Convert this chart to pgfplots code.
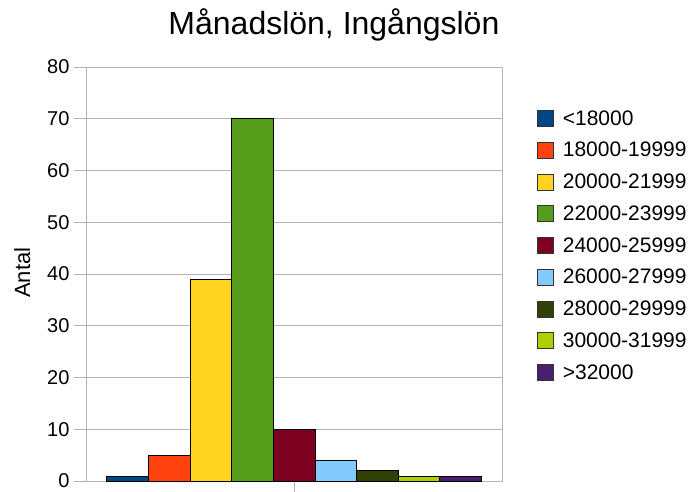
\documentclass[border=0pt]{standalone}
\usepackage{pgfplots}
\pgfplotsset{compat=1.18}
\usepackage{fontspec}
\setmainfont{Liberation Sans}
\definecolor{c1}{HTML}{004586}
\definecolor{c2}{HTML}{FF420E}
\definecolor{c3}{HTML}{FFD320}
\definecolor{c4}{HTML}{579D1C}
\definecolor{c5}{HTML}{7E0021}
\definecolor{c6}{HTML}{83CAFF}
\definecolor{c7}{HTML}{314004}
\definecolor{c8}{HTML}{AECF00}
\definecolor{c9}{HTML}{4B1F6F}
\definecolor{gridc}{HTML}{B3B3B3}
\begin{document}
\begin{tikzpicture}[x=1pt,y=1pt]
\useasboundingbox (-86,-10) rectangle (605,481);
\begin{axis}[
  at={(0,0)}, anchor=south west,
  scale only axis, width=416pt, height=414pt,
  xmin=-1, xmax=9, ymin=0, ymax=80,
  ytick={0,10,...,80},
  xtick={4}, xticklabels={},
  ymajorgrids, grid style={gridc, line width=0.8pt},
  axis line style={gridc, line width=0.8pt},
  tick style={gridc, line width=0.8pt},
  major tick length=12pt,
  ytick align=outside, xtick align=outside,
  xtick pos=bottom, ytick pos=left,
  /pgf/number format/assume math mode=true,
  yticklabel style={font=\fontsize{20}{24}\selectfont, xshift=-1pt},
  ylabel={Antal}, ylabel style={font=\fontsize{22}{26}\selectfont, at={(axis description cs:-0.125,0.503)}, anchor=south},
  title={Månadslön, Ingångslön},
  title style={font=\fontsize{32}{38}\selectfont, at={(axis description cs:0.596,1.088)}, anchor=center},
  ybar, bar width=1, bar shift=0pt,
  every axis plot/.append style={draw=black, line width=0.6pt},
  legend image code/.code={\draw[#1, draw=black!80, line width=0.6pt] (0pt,-8pt) rectangle (16pt,8pt);},
  legend style={at={(axis description cs:1.077,0.903)}, anchor=north west, draw=none, fill=none,
    font=\fontsize{21}{25}\selectfont, row sep=13.6pt,
    nodes={inner sep=1pt, anchor=west},
    /tikz/every odd column/.append style={column sep=8pt}},
  legend cell align=left,
]
\addplot[fill=c1] coordinates {(0,1)};
\addplot[fill=c2] coordinates {(1,5)};
\addplot[fill=c3] coordinates {(2,39)};
\addplot[fill=c4] coordinates {(3,70)};
\addplot[fill=c5] coordinates {(4,10)};
\addplot[fill=c6] coordinates {(5,4)};
\addplot[fill=c7] coordinates {(6,2)};
\addplot[fill=c8] coordinates {(7,1)};
\addplot[fill=c9] coordinates {(8,1)};
\legend{<18000,18000-19999,20000-21999,22000-23999,24000-25999,26000-27999,28000-29999,30000-31999,>32000}
\end{axis}
\end{tikzpicture}
\end{document}
